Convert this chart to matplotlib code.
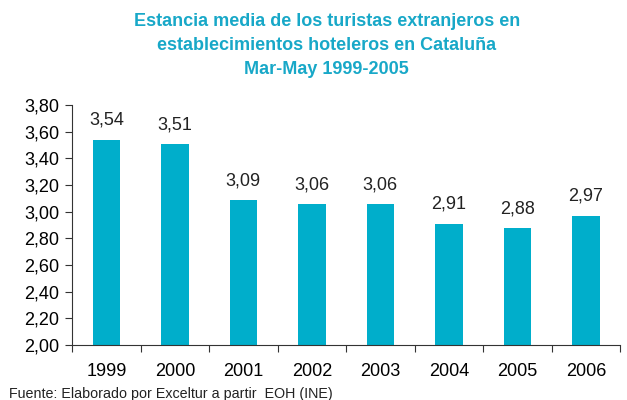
import matplotlib
matplotlib.use("Agg")
import matplotlib.pyplot as plt

plt.rcParams['font.family'] = ['Liberation Sans', 'DejaVu Sans']

years = ["1999", "2000", "2001", "2002", "2003", "2004", "2005", "2006"]
values = [3.54, 3.51, 3.09, 3.06, 3.06, 2.91, 2.88, 2.97]
yticks = [2.0, 2.2, 2.4, 2.6, 2.8, 3.0, 3.2, 3.4, 3.6, 3.8]

bar_color = "#00AECB"
title_color = "#18A8C8"

fig = plt.figure(figsize=(6.27, 4.0), dpi=100)
ax = fig.add_axes([0.115, 0.1375, 0.874, 0.6])

x = list(range(len(years)))
ax.bar(x, values, width=0.4, color=bar_color, zorder=2)
for xi, v in zip(x, values):
    ax.text(xi, v + 0.08, f"{v:.2f}".replace(".", ","), ha="center", va="bottom",
            fontsize=13, color="#222222")

ax.set_xlim(-0.5, len(years) - 0.5)
ax.set_ylim(2.0, 3.8)
ax.set_yticks(yticks)
ax.set_yticklabels([f"{t:.2f}".replace(".", ",") for t in yticks], fontsize=13)
ax.set_xticks([i - 0.5 for i in range(len(years) + 1)])
ax.set_xticklabels([])
ax.set_xticks(x, minor=True)
ax.set_xticklabels(years, minor=True, fontsize=13)
ax.tick_params(axis="x", which="minor", length=0, pad=13)
ax.tick_params(axis="x", which="major", length=5, direction="out", color="#333333")
ax.tick_params(axis="y", length=5, direction="out", color="#333333", pad=4)
for s in ["top", "right"]:
    ax.spines[s].set_visible(False)
for s in ["left", "bottom"]:
    ax.spines[s].set_color("#333333")

fig.text(0.521, 0.945, "Estancia media de los turistas extranjeros en", ha="center", va="center",
         fontsize=13, fontweight="bold", color=title_color)
fig.text(0.521, 0.885, "establecimientos hoteleros en Cataluña", ha="center", va="center",
         fontsize=13, fontweight="bold", color=title_color)
fig.text(0.521, 0.825, "Mar-May 1999-2005", ha="center", va="center",
         fontsize=13, fontweight="bold", color=title_color)
fig.text(0.014, 0.016, "Fuente: Elaborado por Exceltur a partir  EOH (INE)", ha="left", va="center",
         fontsize=10.3, color="#222222")

fig.savefig("out.png", dpi=100)
